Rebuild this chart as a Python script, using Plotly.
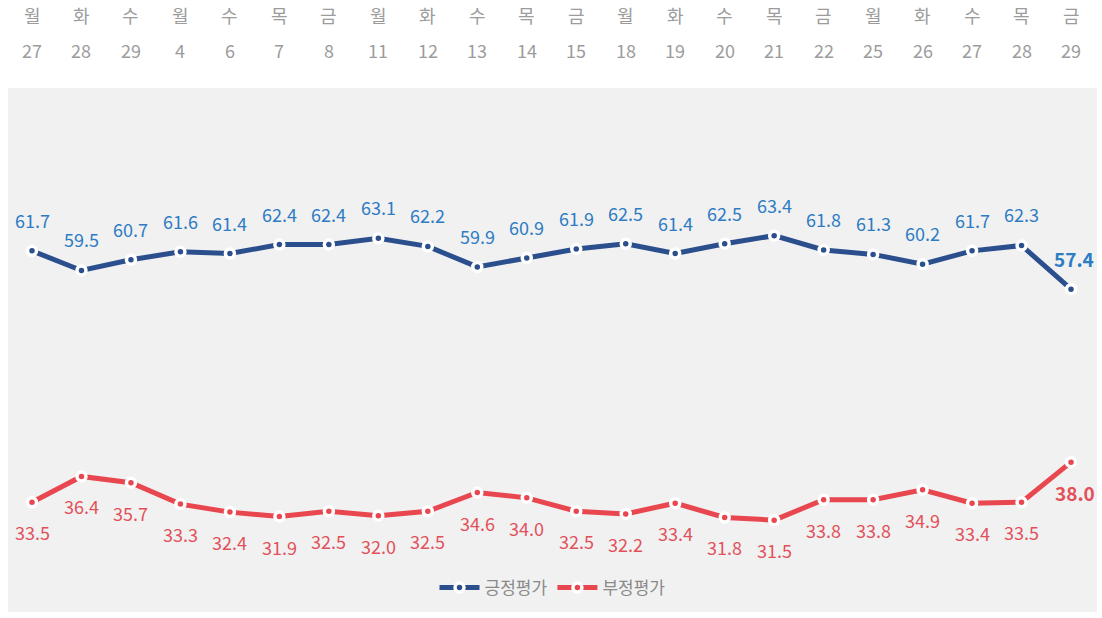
import plotly.graph_objects as go

weekdays = ["월", "화", "수", "월", "수", "목", "금", "월", "화", "수", "목", "금",
            "월", "화", "수", "목", "금", "월", "화", "수", "목", "금"]
dates = ["27", "28", "29", "4", "6", "7", "8", "11", "12", "13", "14", "15",
         "18", "19", "20", "21", "22", "25", "26", "27", "28", "29"]
positive = [61.7, 59.5, 60.7, 61.6, 61.4, 62.4, 62.4, 63.1, 62.2, 59.9, 60.9, 61.9,
            62.5, 61.4, 62.5, 63.4, 61.8, 61.3, 60.2, 61.7, 62.3, 57.4]
negative = [33.5, 36.4, 35.7, 33.3, 32.4, 31.9, 32.5, 32.0, 32.5, 34.6, 34.0, 32.5,
            32.2, 33.4, 31.8, 31.5, 33.8, 33.8, 34.9, 33.4, 33.5, 38.0]
series_names = ["긍정평가", "부정평가"]

BLUE_LINE = "#2b4f8d"
BLUE_TEXT = "#2e7cc4"
RED_LINE = "#e8474f"
RED_TEXT = "#e2515b"
TOP_TEXT = "#9c9c9c"
FONT = "Noto Sans CJK KR"

W, H = 1102, 618
ML, MR, MT, MB = 8, 5, 88, 6

x = list(range(len(dates)))

fig = go.Figure()
for vals, name, lc in [(positive, series_names[0], BLUE_LINE), (negative, series_names[1], RED_LINE)]:
    fig.add_trace(go.Scatter(
        x=x, y=vals, name=name, mode="lines+markers",
        line=dict(color=lc, width=5),
        marker=dict(size=9, color=lc, line=dict(color="white", width=3.5)),
        hoverinfo="skip",
    ))

plot_h = H - MT - MB


def paper_y(px):
    return (H - MB - px) / plot_h


annotations = []
last = len(x) - 1
for i, v in enumerate(positive):
    annotations.append(dict(
        x=i, y=v, xref="x", yref="y", text=(f"<b>{v:.1f}</b>" if i == last else f"{v:.1f}"),
        showarrow=False, yshift=31, xshift=(3 if i == last else 0),
        font=dict(family=FONT, size=(19 if i == last else 18), color=BLUE_TEXT),
    ))
for i, v in enumerate(negative):
    annotations.append(dict(
        x=i, y=v, xref="x", yref="y", text=(f"<b>{v:.1f}</b>" if i == last else f"{v:.1f}"),
        showarrow=False, yshift=-30, xshift=(4 if i == last else 0),
        font=dict(family=FONT, size=(19 if i == last else 18), color=RED_TEXT),
    ))
for i, (wd, dt) in enumerate(zip(weekdays, dates)):
    annotations.append(dict(x=i, y=paper_y(15), xref="x", yref="paper", text=wd,
                            showarrow=False, yanchor="middle",
                            font=dict(family=FONT, size=18, color=TOP_TEXT)))
    annotations.append(dict(x=i, y=paper_y(50), xref="x", yref="paper", text=dt,
                            showarrow=False, yanchor="middle",
                            font=dict(family=FONT, size=18, color=TOP_TEXT)))

fig.update_layout(
    width=W, height=H,
    margin=dict(l=ML, r=MR, t=MT, b=MB),
    paper_bgcolor="white",
    plot_bgcolor="#f1f1f1",
    showlegend=True,
    legend=dict(orientation="h", x=0.5, xanchor="center", y=paper_y(588), yanchor="middle",
                bgcolor="rgba(0,0,0,0)",
                font=dict(family=FONT, size=17, color="#8a8a8a"),
                itemwidth=40),
    xaxis=dict(range=[-0.485, 21.525], showgrid=False, zeroline=False,
               showticklabels=False, fixedrange=True),
    yaxis=dict(range=[21.2, 79.96], showgrid=False, zeroline=False,
               showticklabels=False, fixedrange=True),
    annotations=annotations,
)

fig.write_html("out.html", config={"displayModeBar": False},
               post_script="document.body.style.margin='0';document.body.style.overflow='hidden';")
